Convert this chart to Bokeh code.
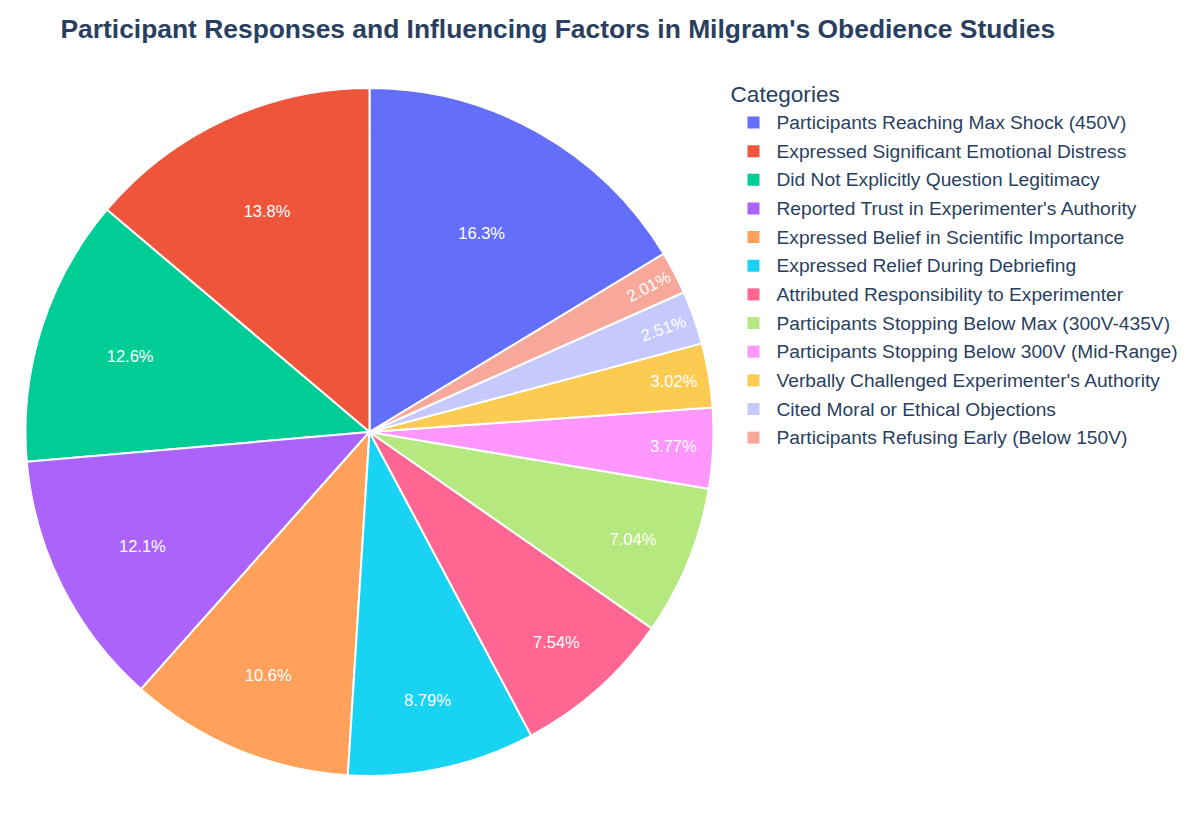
import math
from bokeh.plotting import figure
from bokeh.models import Range1d, Label, ColumnDataSource
from bokeh.core.properties import value
from bokeh.embed import file_html
from bokeh.resources import INLINE

# Milgram obedience study: participant responses and influencing factors
categories = [
    "Participants Reaching Max Shock (450V)",
    "Expressed Significant Emotional Distress",
    "Did Not Explicitly Question Legitimacy",
    "Reported Trust in Experimenter's Authority",
    "Expressed Belief in Scientific Importance",
    "Expressed Relief During Debriefing",
    "Attributed Responsibility to Experimenter",
    "Participants Stopping Below Max (300V-435V)",
    "Participants Stopping Below 300V (Mid-Range)",
    "Verbally Challenged Experimenter's Authority",
    "Cited Moral or Ethical Objections",
    "Participants Refusing Early (Below 150V)",
]
counts = [65, 55, 50, 48, 42, 35, 30, 28, 15, 12, 10, 8]
colors = [
    "#636efa", "#EF553B", "#00cc96", "#ab63fa", "#FFA15A", "#19d3f3",
    "#FF6692", "#B6E880", "#FF97FF", "#FECB52", "#c6c9fd", "#f7a89a",
]

W, H = 1200, 840
CX, CY, R = 369, H - 431.5, 344
TEXT_COLOR = "#2a3f5f"
FONT = "Liberation Sans"

p = figure(width=W, height=H, output_backend="svg", toolbar_location=None,
           x_range=Range1d(0, W), y_range=Range1d(0, H), min_border=0)
p.axis.visible = False
p.grid.visible = False
p.outline_line_color = None
p.background_fill_color = "white"
p.border_fill_color = "white"

total = sum(counts)
fracs = [c / total for c in counts]

# largest slice first, the rest clockwise from the smallest upward
order = [0] + list(range(len(counts) - 1, 0, -1))
starts, ends = [0.0] * len(counts), [0.0] * len(counts)
ang = math.pi / 2
for i in order:
    a0 = ang - fracs[i] * 2 * math.pi
    starts[i], ends[i] = a0, ang
    ang = a0

src = ColumnDataSource(dict(start=starts, end=ends, color=colors))
p.wedge(x=CX, y=CY, radius=R, start_angle="start", end_angle="end",
        fill_color="color", line_color="white", line_width=2, source=src)

# percentage labels inside slices: smaller slices push their label outward
lx, ly, lt, la = [], [], [], []
for i, f in enumerate(fracs):
    pct = f * 100
    mid = (starts[i] + ends[i]) / 2
    rf = min(0.93, 0.95 - 0.0175 * pct)
    lx.append(CX + rf * R * math.cos(mid))
    ly.append(CY + rf * R * math.sin(mid))
    lt.append(f"{pct:.3g}%")
    la.append(mid if pct < 2.6 else 0.0)
p.text(x=lx, y=ly, text=lt, angle=la, text_color="white",
       text_font=value(FONT), text_font_size="16.5px",
       text_align="center", text_baseline="middle")

# title
p.add_layout(Label(x=60, y=H - 28, text="Participant Responses and Influencing Factors in Milgram's Obedience Studies",
                   text_font=FONT, text_font_style="bold",
                   text_font_size="26.4px", text_color=TEXT_COLOR,
                   text_baseline="middle"))

# legend
p.add_layout(Label(x=730, y=H - 94, text="Categories", text_font=FONT,
                   text_font_size="22.6px", text_color=TEXT_COLOR,
                   text_baseline="middle"))
step = 28.65
ys = [H - (122 + k * step) for k in range(len(categories))]
p.rect(x=[753] * len(categories), y=ys, width=12, height=12,
       fill_color=colors, line_color=None)
p.text(x=[776] * len(categories), y=ys, text=categories, text_color=TEXT_COLOR,
       text_font=value(FONT), text_font_size="19.2px", text_baseline="middle")

open("out.html", "w").write(file_html(p, INLINE))
